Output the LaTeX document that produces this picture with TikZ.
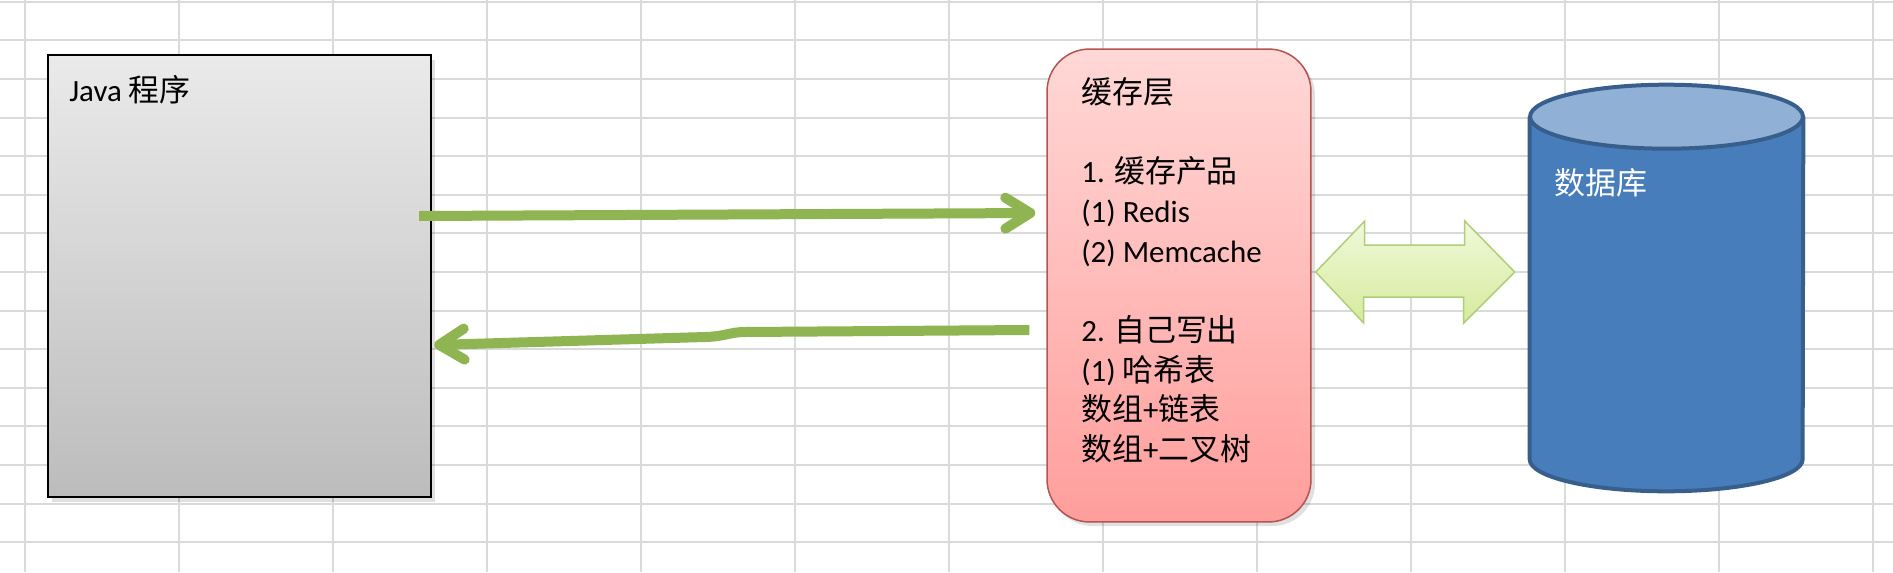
\documentclass[tikz,border=0pt]{standalone}
\usepackage{fontspec}
\setmainfont{Carlito}
\newfontfamily\cjk{Noto Sans CJK SC}
\newcommand\zh[1]{{\cjk #1}}
\usetikzlibrary{arrows.meta,calc}
\definecolor{gridc}{RGB}{218,218,218}
\definecolor{arrowgreen}{RGB}{143,180,82}
\definecolor{javatop}{RGB}{234,234,234}
\definecolor{javabot}{RGB}{188,188,188}
\definecolor{cachetop}{RGB}{255,216,214}
\definecolor{cachebot}{RGB}{255,158,156}
\definecolor{cacheedge}{RGB}{178,84,80}
\definecolor{dbbody}{RGB}{72,125,188}
\definecolor{dbtop}{RGB}{145,176,214}
\definecolor{dbedge}{RGB}{56,94,140}
\definecolor{dbltop}{RGB}{240,248,218}
\definecolor{dblbot}{RGB}{214,235,158}
\definecolor{dbledge}{RGB}{176,206,120}
\begin{document}
\begin{tikzpicture}[x=0.02cm,y=-0.02cm,
  gridline/.style={draw=gridc,line width=0.04cm},
  txt/.style={inner sep=0pt,font=\fontsize{17.6pt}{22.6pt}\selectfont},
  javabox/.style={draw=black,line width=0.05cm,top color=javatop,bottom color=javabot,
    minimum width=7.66cm,minimum height=8.84cm,inner sep=0pt},
  cachebox/.style={draw=cacheedge,line width=0.03cm,top color=cachetop,bottom color=cachebot,
    rounded corners=0.85cm,minimum width=5.28cm,minimum height=9.46cm,inner sep=0pt},
  dbbox/.style={minimum width=5.46cm,minimum height=8.12cm,inner sep=0pt},
  flow/.style={draw=arrowgreen,line width=0.2cm,
    -{Straight Barb[length=0.5cm,width=0.62cm,round]}},
  shadowbox/.style={fill=black,opacity=0.12}
]
\useasboundingbox (0,0) rectangle (1893,572);
\fill[white] (0,0) rectangle (1893,572);
% grid
\foreach \i in {0,...,12} \draw[gridline] ({25+154*\i},0) -- ({25+154*\i},572);
\foreach \j in {0,...,14} \draw[gridline] (0,{1.8+38.6*\j}) -- (1893,{1.8+38.6*\j});

% shadows
\fill[shadowbox] (52,60) rectangle (435,502);
% Java box
\node[javabox] (java) at (239.5,276) {};
\node[txt,anchor=north west] (javalbl) at (69,75) {Java \zh{程序}};

% cache box
\fill[shadowbox,rounded corners=0.85cm] (1050,53) rectangle (1315,526);
\node[cachebox] (cache) at (1179,285.5) {};
\node[txt,anchor=north west,align=left] (cachetxt) at (1081,77)
  {\zh{缓存层}\\ \mbox{}\\ 1. \zh{缓存产品}\\ (1) Redis\\ (2) Memcache\\ \mbox{}\\
   2. \zh{自己写出}\\ (1) \zh{哈希表}\\ \zh{数组}+\zh{链表}\\ \zh{数组}+\zh{二叉树}};

% database cylinder
\node[dbbox] (db) at (1666.5,288) {};
\path[fill=dbbody,draw=dbedge,line width=0.08cm]
  ($(db.north west)+(0,32)$) -- ($(db.south west)+(0,-32)$)
  arc[start angle=180,end angle=360,x radius=2.73cm,y radius=0.64cm]
  -- ($(db.north east)+(0,32)$);
\path[fill=dbtop,draw=dbedge,line width=0.08cm]
  ($(db.north)+(0,32)$) ellipse [x radius=2.73cm,y radius=0.64cm];
\node[txt,anchor=north west,text=white] (dblbl) at (1554,168) {\zh{数据库}};

% arrows between Java and cache
\draw[flow] ($(java.east)+(-13,-60)$) -- ($(cache.west)+(-11,-72.5)$);
\draw[flow] ($(cache.west)+(-17,44.5)$) -- (745,332)
  .. controls (730,332) and (725,336.5) .. (705,337) -- ($(java.east)+(2,69)$);

% double block arrow between cache and db
\coordinate (dl) at ($(cache.east)+(4,-13.5)$);
\coordinate (dr) at ($(db.west)+(-15,-16)$);
\path[draw=dbledge,line width=0.03cm,top color=dbltop,bottom color=dblbot]
  (dl) -- ++(49,-51) -- ++(0,24) -- ++(100,0) -- ++(0,-24) -- (dr)
  -- ++(-51,51) -- ++(0,-26) -- ++(-100,0) -- ++(0,26) -- cycle;
\end{tikzpicture}
\end{document}
